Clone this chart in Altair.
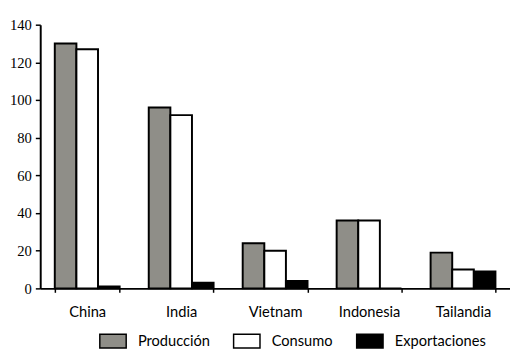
import altair as alt
import pandas as pd

paises = ["China", "India", "Vietnam", "Indonesia", "Tailandia"]
series = ["Producción", "Consumo", "Exportaciones"]
produccion = [130, 96, 24, 36, 19]
consumo = [127, 92, 20, 36, 10]
exportaciones = [1, 3, 4, 0, 9]
colores = ["#8f8e88", "#ffffff", "#000000"]
y_ticks = [0, 20, 40, 60, 80, 100, 120, 140]

rows = []
for i, p in enumerate(paises):
    for s, vals in zip(series, [produccion, consumo, exportaciones]):
        rows.append({"pais": p, "serie": s, "valor": vals[i]})
df = pd.DataFrame(rows)

FONT = "Lato"
NARROW = "Liberation Sans Narrow"

chart = alt.Chart(df).mark_bar(stroke="black", strokeWidth=2).encode(
    x=alt.X(
        "pais:N", sort=paises, title=None,
        scale=alt.Scale(paddingInner=0.31, paddingOuter=0.155),
        axis=alt.Axis(labelAngle=0, tickBand="extent", domainColor="black",
                      domainWidth=2, tickColor="black", tickSize=4, tickWidth=1.5,
                      labelFont=FONT, labelFontSize=15, labelColor="black",
                      labelPadding=13),
    ),
    xOffset=alt.XOffset("serie:N", sort=series,
                        scale=alt.Scale(paddingInner=0, paddingOuter=0)),
    y=alt.Y(
        "valor:Q", title=None,
        scale=alt.Scale(domain=[0, 140]),
        axis=alt.Axis(values=y_ticks, grid=False, domainColor="black",
                      domainWidth=2, tickColor="black", tickSize=5, tickWidth=1.5,
                      labelFont=NARROW, labelFontSize=15, labelColor="black",
                      labelPadding=4),
    ),
    fill=alt.Fill(
        "serie:N", sort=series,
        scale=alt.Scale(domain=series, range=colores),
        legend=alt.Legend(
            title=None, orient="none", legendX=60, legendY=316,
            direction="horizontal",
            symbolType="M-1,-1H2.86V1H-1Z", symbolSize=196,
            symbolStrokeColor="black", symbolStrokeWidth=1.5,
            symbolOpacity=1,
            labelFont=FONT, labelFontSize=15, labelColor="black",
            labelOffset=24, columnPadding=21,
        ),
    ),
).properties(
    width=481, height=270,
    autosize=alt.AutoSizeParams(type="none"),
    padding={"left": 33, "top": 13, "right": 0, "bottom": 60},
).configure_view(stroke=None)

chart.save("out.html", embed_options={"renderer": "svg", "actions": False})
